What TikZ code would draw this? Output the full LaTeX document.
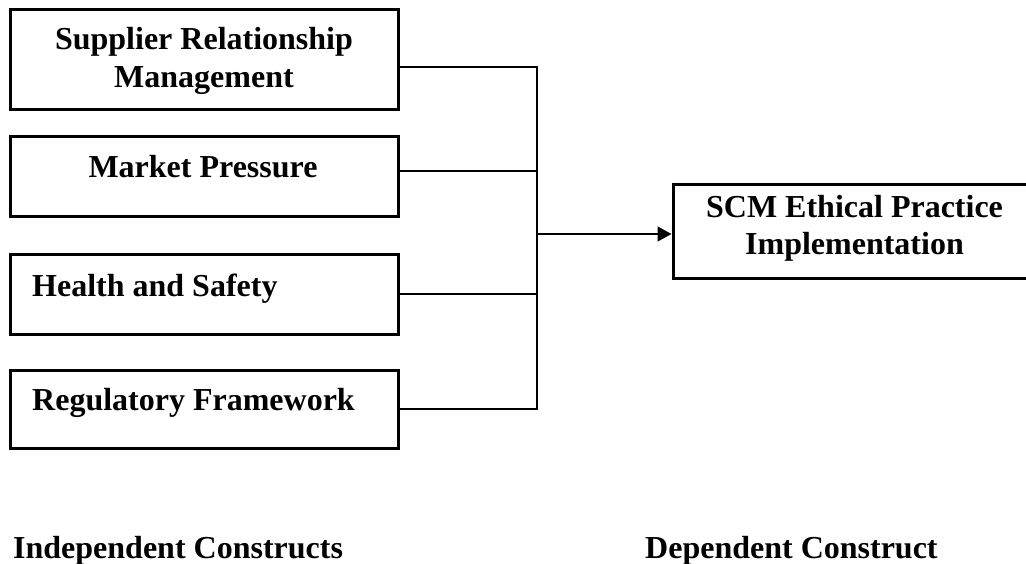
\documentclass[tikz,border=0pt]{standalone}
\usepackage{fontspec}
\setmainfont{Liberation Serif}
\usetikzlibrary{arrows.meta}

\begin{document}
\begin{tikzpicture}[x=1pt,y=-1pt,
  box/.style={draw=black,line width=3pt,rectangle,inner sep=0pt},
  lbl/.style={inner sep=0pt,font=\fontsize{32}{38}\selectfont\bfseries},
  conn/.style={draw=black,line width=1.3pt},
  >={Triangle[length=14pt,width=15pt]}]
  \useasboundingbox (0,0) rectangle (1026,564);

  % independent constructs
  \node[box,minimum width=388pt,minimum height=100pt] (b1) at (204,60) {};
  \node[box,minimum width=388pt,minimum height=80pt]  (b2) at (204,177) {};
  \node[box,minimum width=388pt,minimum height=79pt]  (b3) at (204,294.5) {};
  \node[box,minimum width=388pt,minimum height=78pt]  (b4) at (204,409) {};

  \node[lbl,anchor=base] (t1a) at (204,50) {Supplier Relationship};
  \node[lbl,anchor=base] (t1b) at (204,88) {Management};
  \node[lbl,anchor=base] (t2)  at (203,178) {Market Pressure};
  \node[lbl,anchor=base west] (t3) at (32,297) {Health and Safety};
  \node[lbl,anchor=base west] (t4) at (32,410) {Regulatory Framework};

  % dependent construct (runs past the right edge)
  \node[box,minimum width=362pt,minimum height=94pt] (out) at (854,232) {};
  \node[lbl,anchor=base] (t5a) at (854.5,218) {SCM Ethical Practice};
  \node[lbl,anchor=base] (t5b) at (854.5,255) {Implementation};

  % collector bus
  \coordinate (j1) at (537,67);
  \coordinate (j2) at (537,171);
  \coordinate (j3) at (537,294);
  \coordinate (j4) at (537,409);
  \coordinate (jm) at (537,234);

  \draw[conn] (b1.east |- j1) -- (j1) -- (j4) -- (b4.east |- j4);
  \draw[conn] (b2.east |- j2) -- (j2);
  \draw[conn] (b3.east |- j3) -- (j3);
  \draw[conn,->] (jm) -- (out.west |- jm);

  % column captions
  \node[lbl,anchor=base west] (cap1) at (13,558) {Independent Constructs};
  \node[lbl,anchor=base west] (cap2) at (645,558) {Dependent Construct};
\end{tikzpicture}
\end{document}
